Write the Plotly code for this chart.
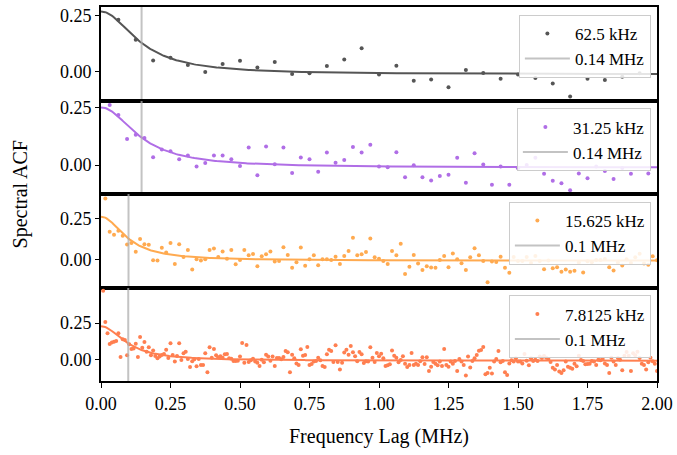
import numpy as np
import plotly.graph_objects as go
from plotly.subplots import make_subplots

# channel resolutions (MHz) and labels
chan_mhz = [0.0625, 0.03125, 0.015625, 0.0078125]
chan_labels = ["62.5 kHz", "31.25 kHz", "15.625 kHz", "7.8125 kHz"]
width_labels = ["0.14 MHz", "0.14 MHz", "0.1 MHz", "0.1 MHz"]
colors = ["#555555", "#b06ee6", "#ffaa50", "#ff7f50"]

# fitted Lorentzian parameters
fit_amp = [0.279, 0.261, 0.268, 0.233]
fit_width = [0.146, 0.146, 0.099, 0.098]
fit_offset = [-0.012, -0.011, -0.004, -0.005]

# y ranges per panel
y_ranges = [[-0.128, 0.287], [-0.125, 0.28], [-0.168, 0.402], [-0.142, 0.49]]

acf_62k = [0.230, 0.142, 0.050, 0.062, 0.030, -0.001, 0.034, 0.048, 0.018, 0.043,
           -0.010, -0.007, 0.025, 0.054, 0.104, -0.013, 0.026, -0.040, -0.035, -0.069,
           0.007, -0.006, -0.031, -0.013, -0.028, -0.053, -0.110, -0.031, -0.037, -0.023,
           -0.007]

acf_31k = [0.260, 0.217, 0.113, 0.132, 0.118, 0.034, 0.068, 0.060, 0.025, 0.042,
           -0.006, 0.009, 0.042, 0.042, 0.025, -0.004, 0.076, -0.044, 0.081, 0.004,
           0.076, -0.034, 0.033, 0.025, -0.029, 0.055, 0.010, 0.022, 0.079, 0.055,
           0.088, -0.006,
           -0.009, 0.056, -0.052, 0.000, -0.052, -0.066, -0.047, -0.042, 0.032, -0.076,
           0.052, 0.003, -0.085, -0.006, -0.085, -0.014, 0.001, 0.032, -0.037, -0.068,
           -0.078, -0.109, -0.036, -0.057, -0.006, -0.025, -0.060, -0.012, -0.037, 0.040,
           -0.036]

acf_15k = [0.374, 0.172, 0.154, 0.178, 0.148, 0.094, 0.104, 0.050, 0.128, 0.096,
           0.092, -0.002, -0.004, 0.074, 0.046, 0.104, -0.024, 0.096, 0.018, 0.060,
           -0.058, 0.004, -0.004, 0.004, 0.060, 0.070, 0.018, 0.052, 0.008, 0.060,
           -0.026, 0.000, 0.060, 0.028, 0.036, -0.038, 0.022, 0.034, 0.052, -0.010,
           -0.006, 0.078, 0.030, -0.048, -0.014, 0.076, -0.036, 0.004, 0.028, -0.032,
           0.004, 0.004, 0.000, 0.020, -0.024, 0.024, 0.054, 0.136, 0.028, 0.034,
           0.048, 0.130, 0.016, 0.008, -0.006,
           -0.024, 0.054, 0.028, 0.098, -0.086, -0.042, 0.030, -0.022, -0.062, -0.038,
           -0.046, -0.048, 0.000, 0.024, -0.044, 0.040, 0.004, -0.020, -0.062, 0.016,
           0.072, 0.028, -0.006, -0.136, -0.010, -0.012, 0.020, -0.048, -0.078, 0.018,
           -0.006, -0.006, 0.018, -0.018, 0.024, -0.006, -0.056, -0.004, -0.050, -0.044,
           -0.072, -0.058, -0.072, -0.066, -0.016, -0.076, -0.008, -0.014, 0.000, 0.000,
           0.006, -0.044, -0.064, -0.016, -0.034, 0.004, -0.018, 0.016, 0.038, -0.022,
           -0.030, 0.022, -0.002]

acf_7k = [0.468, 0.257, 0.180, 0.108, 0.119, 0.124, 0.128, 0.180, 0.020, 0.140,
          0.135, 0.032, 0.106, 0.074, 0.077, 0.110, 0.020, 0.155, 0.083, 0.122,
          0.056, 0.086, 0.032, 0.065, 0.027, 0.011, 0.023, 0.034, 0.041, 0.070,
          0.014, 0.113, 0.034, -0.011, 0.027, 0.113, 0.000, 0.045, 0.056, 0.007,
          -0.047, -0.009, 0.005, -0.043, 0.007, -0.034, -0.034, 0.045, -0.083, 0.086,
          0.016, 0.074, 0.032, 0.018, 0.025, 0.016, 0.038, 0.041, 0.011, 0.009,
          -0.007, -0.007, -0.005, 0.023, 0.115, -0.018, 0.101, -0.014, -0.002, 0.009,
          -0.011, -0.018, -0.041, 0.002, -0.016, 0.036, 0.023, -0.005, 0.023, -0.041,
          0.014, 0.014, 0.005, 0.020, 0.061, 0.052, -0.083, 0.036, 0.011, -0.023,
          -0.034, 0.072, 0.029, 0.034, 0.088, -0.034, -0.027, -0.011, -0.007, 0.016,
          -0.002, -0.041, -0.047, 0.038, 0.070, 0.061, -0.014, 0.099, -0.014, -0.065,
          -0.018, 0.050, 0.070, 0.036, 0.095, 0.052, 0.025, -0.009, 0.054, 0.038,
          -0.020, -0.009, -0.011, 0.086, 0.016, -0.014, 0.047, 0.025, 0.043, 0.011,
          -0.041, -0.036, -0.029, 0.065, 0.029, 0.016, -0.016, 0.000, 0.025, -0.025,
          -0.047, -0.034, 0.047, -0.034, -0.025, -0.034, -0.009, 0.018, -0.027, 0.018,
          -0.074, -0.045, -0.014, -0.025, -0.036, -0.011, -0.041, 0.074, -0.034, -0.045,
          -0.011, -0.025, -0.007, -0.074, 0.007, -0.011, -0.034, -0.104, 0.023, -0.050,
          -0.007, 0.011, 0.034, 0.063, 0.068, 0.088, -0.097, -0.088, -0.052, -0.092,
          -0.011, 0.007, 0.061, -0.016, -0.007, -0.083, -0.101, -0.023, -0.002, -0.011,
          0.011, -0.011, -0.011, -0.023, 0.041, -0.005, -0.036, 0.011, -0.007, 0.002,
          -0.007, 0.023, 0.014, 0.027, 0.016, 0.007, -0.014, -0.052, -0.065, -0.034,
          -0.077, -0.088, -0.070, -0.011, -0.045, -0.052, -0.059, -0.025, -0.043, 0.029,
          0.000, -0.007, -0.029, -0.027, -0.025, -0.007, -0.011, -0.034, 0.002, -0.002,
          0.007, -0.023, -0.034, -0.088, 0.016, -0.011, -0.034, 0.014, 0.002, -0.070,
          0.029, 0.054, 0.029, -0.074, 0.045, 0.032, 0.056, 0.014, -0.025, -0.034,
          -0.065, -0.016, 0.016, -0.009, -0.025, -0.074]

acf_series = [acf_62k, acf_31k, acf_15k, acf_7k]

FONT = "Liberation Serif"

fig = make_subplots(rows=4, cols=1, shared_xaxes=True, vertical_spacing=0)

x_fit = np.linspace(0, 2.0, 400)
legend_names = ["legend", "legend2", "legend3", "legend4"]

for i in range(4):
    row = i + 1
    vals = acf_series[i]
    lags = np.arange(1, len(vals) + 1) * chan_mhz[i]
    lg = legend_names[i]
    fig.add_trace(go.Scatter(
        x=lags, y=vals, mode="markers", name=chan_labels[i],
        marker=dict(color=colors[i], size=4), legend=lg, showlegend=True,
    ), row=row, col=1)
    # fit curve (Lorentzian with parameters)
    y_fit = fit_offset[i] + fit_amp[i] / (1 + (x_fit / fit_width[i]) ** 2)
    fig.add_trace(go.Scatter(
        x=x_fit, y=y_fit, mode="lines", line=dict(color=colors[i], width=2),
        showlegend=False, hoverinfo="skip",
    ), row=row, col=1)
    # vertical width marker
    fig.add_trace(go.Scatter(
        x=[fit_width[i], fit_width[i]], y=[y_ranges[i][0] - 1, y_ranges[i][1] + 1],
        mode="lines", name=width_labels[i],
        line=dict(color="rgba(175,175,175,0.75)", width=2), legend=lg, showlegend=True,
    ), row=row, col=1)

    fig.update_yaxes(
        row=row, col=1, range=y_ranges[i], tickvals=[0, 0.25], ticktext=["0.00", "0.25"],
        ticks="outside", ticklen=4, tickwidth=1, tickcolor="black",
        showline=True, linecolor="black", linewidth=2, mirror=True,
        showgrid=False, zeroline=False,
        tickfont=dict(family=FONT, size=18, color="black"),
    )
    fig.update_xaxes(
        row=row, col=1, range=[0, 2.0], showline=True, linecolor="black", linewidth=2,
        mirror=True, showgrid=False, zeroline=False,
        tickvals=[0, 0.25, 0.5, 0.75, 1.0, 1.25, 1.5, 1.75, 2.0],
        ticktext=["0.00", "0.25", "0.50", "0.75", "1.00", "1.25", "1.50", "1.75", "2.00"],
        ticks="outside" if row == 4 else "", ticklen=5, tickwidth=1, tickcolor="black",
        showticklabels=(row == 4),
        tickfont=dict(family=FONT, size=18, color="black"),
    )

legend_style = dict(
    xanchor="right", yanchor="top", x=0.989,
    bgcolor="rgba(255,255,255,0.85)", bordercolor="#cccccc", borderwidth=1,
    itemwidth=45,
    font=dict(family=FONT, size=17, color="black"),
)
tops = [0.979, 0.729, 0.479, 0.229]
layout_legends = {}
for i, lg in enumerate(legend_names):
    layout_legends[lg] = dict(legend_style, y=tops[i])

fig.update_layout(
    width=677, height=455,
    margin=dict(l=101, r=19, t=4, b=74),
    paper_bgcolor="white", plot_bgcolor="white",
    font=dict(family=FONT, color="black"),
    hovermode=False,
    **layout_legends,
)

fig.add_annotation(text="Spectral ACF", xref="paper", yref="paper", x=-0.145, y=0.5,
                   textangle=-90, showarrow=False, xanchor="center", yanchor="middle",
                   font=dict(family=FONT, size=20, color="black"))
fig.add_annotation(text="Frequency Lag (MHz)", xref="paper", yref="paper", x=0.5, y=-0.148,
                   showarrow=False, xanchor="center", yanchor="middle",
                   font=dict(family=FONT, size=20, color="black"))

fig.write_html("out.html", config={"displayModeBar": False},
               post_script="document.body.style.margin='0';")
